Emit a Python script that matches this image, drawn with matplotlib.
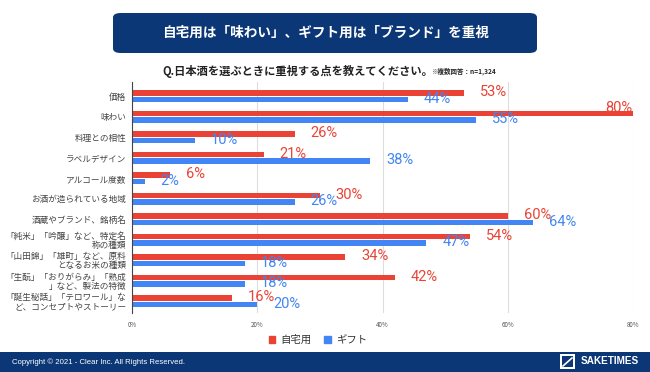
import matplotlib.pyplot as plt
import matplotlib.patches as mpatches
import numpy as np

plt.rcParams['font.family'] = ['Noto Sans CJK JP', 'DejaVu Sans']

categories = [
    '価格',
    '味わい',
    '料理との相性',
    'ラベルデザイン',
    'アルコール度数',
    'お酒が造られている地域',
    '酒蔵やブランド、銘柄名',
    '「純米」「吟醸」など、特定名\n称の種類',
    '「山田錦」「雄町」など、原料\nとなるお米の種類',
    '「生酛」「おりがらみ」「熟成\n」など、製法の特徴',
    '「誕生秘話」「テロワール」な\nど、コンセプトやストーリー',
]
home = [53, 80, 26, 21, 6, 30, 60, 54, 34, 42, 16]
gift = [44, 55, 10, 38, 2, 26, 64, 47, 18, 18, 20]
series_names = ['自宅用', 'ギフト']
xticks = [0, 20, 40, 60, 80]

RED = '#ea4335'
BLUE = '#4285f4'
NAVY = '#0c3777'

fig = plt.figure(figsize=(6.5, 3.72), dpi=100)

# title box
box = mpatches.FancyBboxPatch((113 / 650, 1 - 53 / 372), 424 / 650, 40 / 372,
                              boxstyle='round,pad=0,rounding_size=0.012',
                              transform=fig.transFigure, facecolor=NAVY,
                              edgecolor='none')
fig.patches.append(box)
fig.text(326 / 650, 1 - 33 / 372, '自宅用は「味わい」、ギフト用は「ブランド」を重視',
         ha='center', va='center', color='white', fontsize=9.8, fontweight='bold')
fig.text(162 / 650, 1 - 71 / 372, 'Q.日本酒を選ぶときに重視する点を教えてください。',
         ha='left', va='center', color='#222222', fontsize=8.1, fontweight='bold')
fig.text(431 / 650, 1 - 71.5 / 372, '※複数回答：n=1,324',
         ha='left', va='center', color='#222222', fontsize=4.7, fontweight='bold')

ax = fig.add_axes([132 / 650, 1 - 313 / 372, 501 / 650, 231 / 372])
ind = np.arange(len(categories))
h = 0.28
ax.barh(ind - 0.16, home, height=h, color=RED, label=series_names[0], zorder=3)
ax.barh(ind + 0.16, gift, height=h, color=BLUE, label=series_names[1], zorder=3)

for i in range(len(categories)):
    for val, dy, col in [(home[i], -0.16, RED), (gift[i], 0.16, BLUE)]:
        if val > 75:
            ax.annotate('%d%%' % val, (val, i + dy), xytext=(-1, 6),
                        textcoords='offset pixels', ha='right', va='center',
                        color=col, fontsize=10.5, family='Roboto', zorder=4)
        else:
            ax.annotate('%d%%' % val, (val, i + dy), xytext=(16, 1),
                        textcoords='offset pixels', ha='left', va='center',
                        color=col, fontsize=10.5, family='Roboto', zorder=4)

ax.set_xlim(0, 80)
ax.set_ylim(10.57, -0.7)
ax.set_yticks(ind)
ax.set_yticklabels(categories, fontsize=6.2, color='#444444', linespacing=1.0)
ax.set_xticks(xticks)
ax.set_xticklabels(['%d%%' % t for t in xticks], fontsize=4.5, color='#555555')
ax.tick_params(axis='both', length=0, pad=4)
ax.tick_params(axis='x', pad=6)
ax.xaxis.grid(True, color='#dddddd', linewidth=0.8, zorder=0)
for s in ['top', 'right', 'bottom']:
    ax.spines[s].set_visible(False)
ax.spines['left'].set_color('#444444')
ax.spines['left'].set_linewidth(0.8)
ax.spines['left'].set_zorder(5)

# legend
fig.legend(handles=[mpatches.Patch(color=RED, label=series_names[0]),
                    mpatches.Patch(color=BLUE, label=series_names[1])],
           loc='center', bbox_to_anchor=(318 / 650, 1 - 340 / 372), ncol=2,
           frameon=False, fontsize=7.5, handlelength=0.6, handleheight=0.6,
           handletextpad=0.5, columnspacing=1.2, labelcolor='#333333')

# footer
fig.patches.append(mpatches.Rectangle((0, 0), 1, 20 / 372, transform=fig.transFigure,
                                      facecolor=NAVY, edgecolor='none'))
fig.text(12 / 650, 10 / 372, 'Copyright © 2021 - Clear Inc. All Rights Reserved.',
         ha='left', va='center', color='white', fontsize=5.6, family='Liberation Sans')
fig.patches.append(mpatches.Rectangle((560 / 650, 3 / 372), 15 / 650, 15 / 372,
                                      transform=fig.transFigure, facecolor='white',
                                      edgecolor='none'))
fig.patches.append(mpatches.Rectangle((562 / 650, 5 / 372), 11 / 650, 11 / 372,
                                      transform=fig.transFigure, facecolor=NAVY,
                                      edgecolor='none'))
fig.lines.append(plt.Line2D([563 / 650, 572 / 650], [6 / 372, 14 / 372],
                            transform=fig.transFigure, color='white', linewidth=1.2))
fig.text(581 / 650, 10.5 / 372, 'SAKETIMES', ha='left', va='center', color='white',
         fontsize=7.2, fontweight='bold', family='Liberation Sans')

fig.savefig('out.png', dpi=100)
